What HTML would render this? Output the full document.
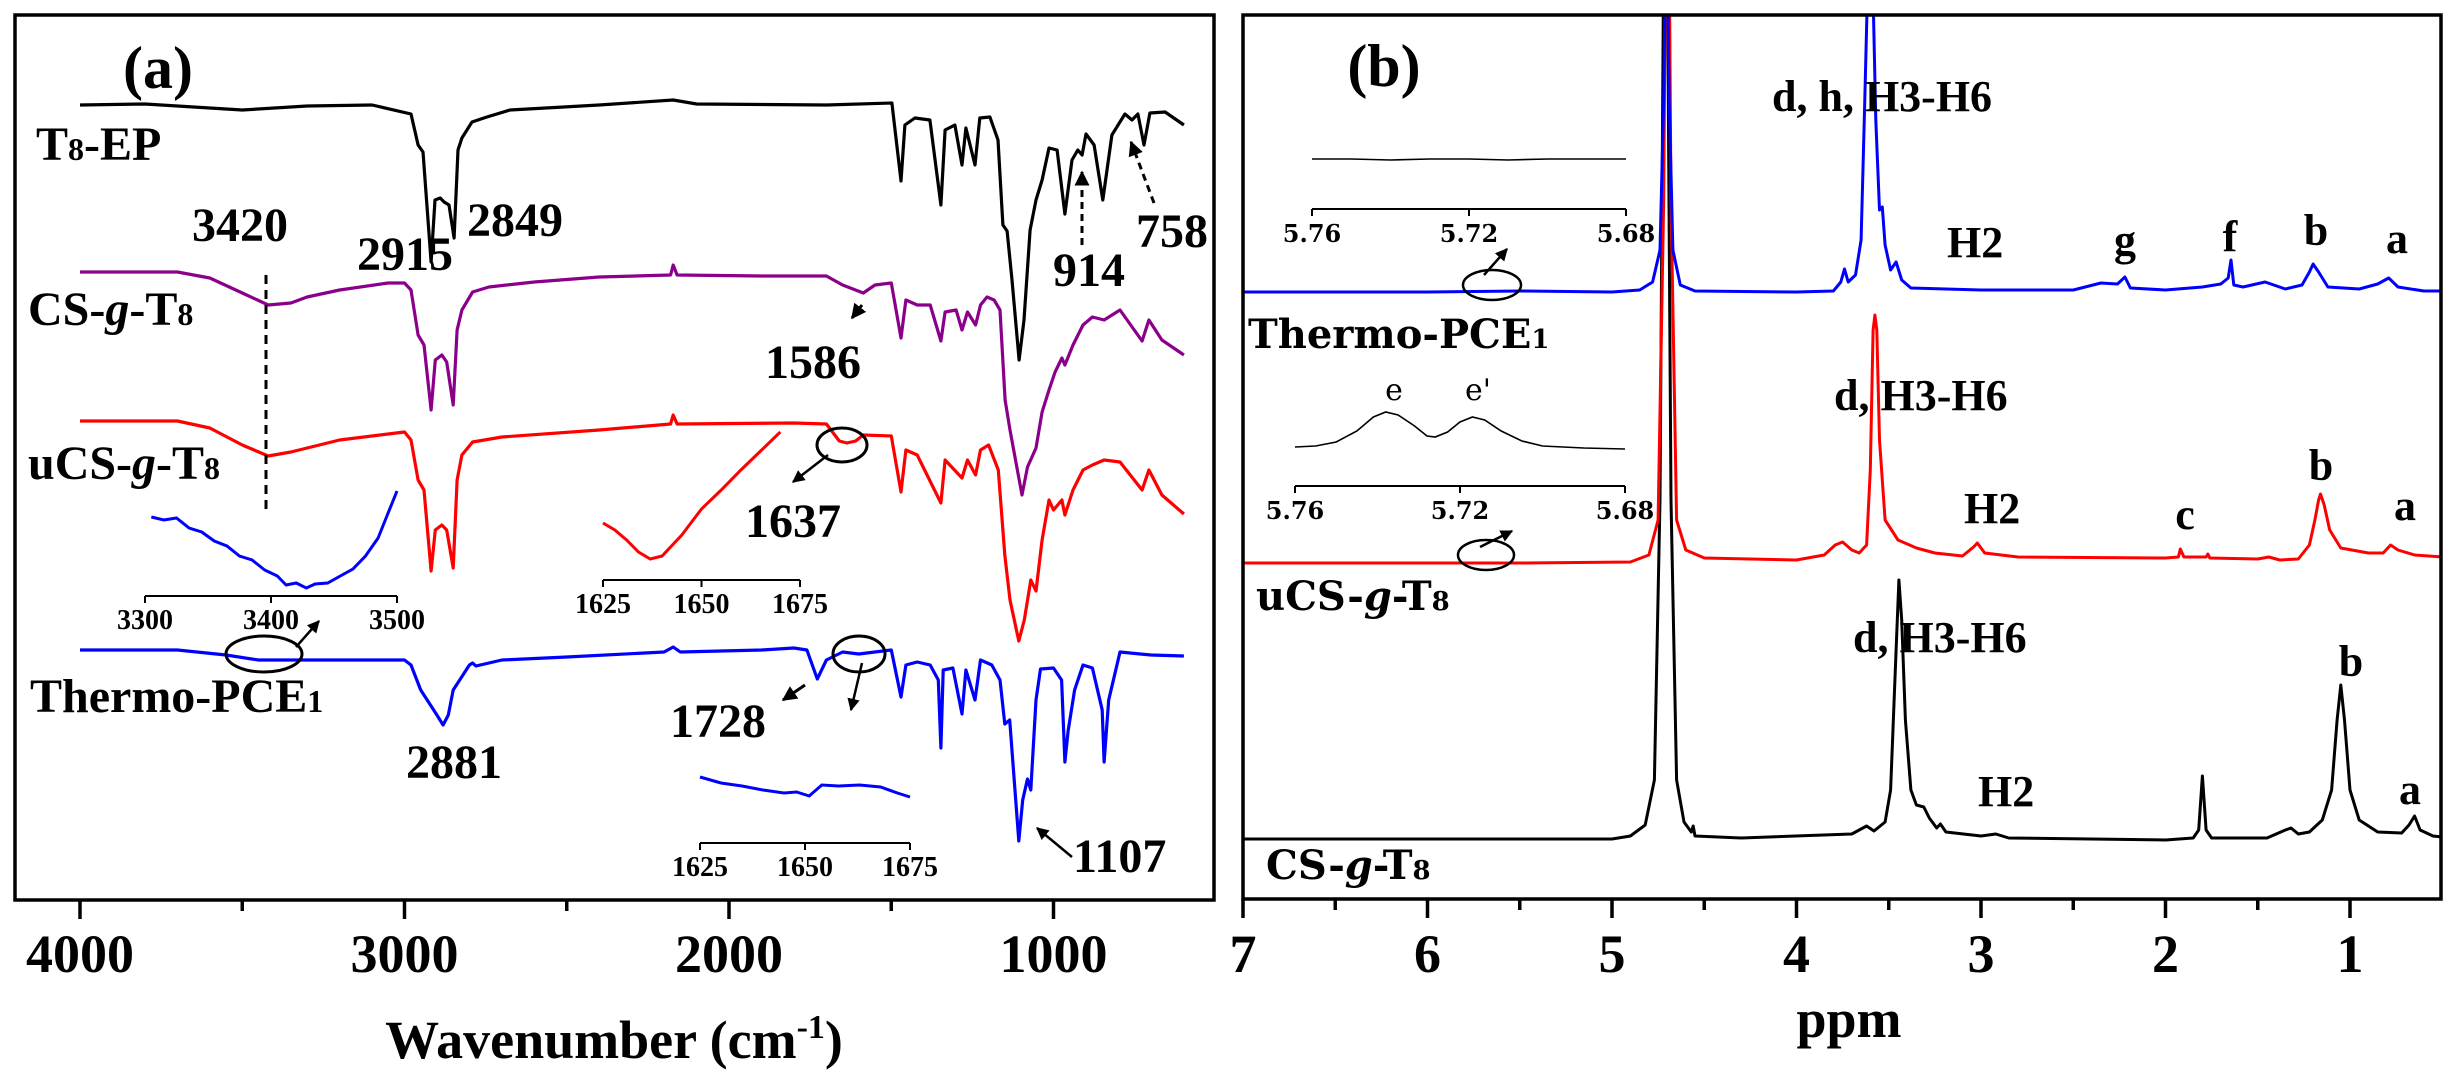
<!DOCTYPE html>
<html><head><meta charset="utf-8"><style>
html,body{margin:0;padding:0;background:#fff;}
svg{display:block;}
text{font-family:"Liberation Serif",serif;font-weight:bold;fill:#000;}
.w{font-family:"DejaVu Serif","Liberation Serif",serif;}
</style></head><body>
<svg id="fig" width="2458" height="1081" viewBox="0 0 2458 1081" xmlns="http://www.w3.org/2000/svg">
<defs>
<marker id="ah" viewBox="0 0 10 10" refX="9" refY="5" markerWidth="5" markerHeight="5" orient="auto"><path d="M0,0 L10,5 L0,10 z" fill="#000"/></marker>
<clipPath id="clipA"><rect x="15" y="15" width="1199" height="885"/></clipPath>
<clipPath id="clipB"><rect x="1243" y="15" width="1198" height="884"/></clipPath>
</defs>
<rect x="0" y="0" width="2458" height="1081" fill="#fff"/>
<g id="panelA"></g>
<g id="panelB"></g>

<!-- static annotation text panel a -->
<text x="158" y="88" font-size="60" text-anchor="middle">(a)</text>
<text x="36" y="160" font-size="48">T<tspan font-size="32">8</tspan>-EP</text>
<text x="28" y="325" font-size="48">CS-<tspan font-style="italic">g</tspan>-T<tspan font-size="32">8</tspan></text>
<text x="28" y="479" font-size="48">uCS-<tspan font-style="italic">g</tspan>-T<tspan font-size="32">8</tspan></text>
<text x="30" y="712" font-size="48">Thermo-PCE<tspan font-size="32">1</tspan></text>
<text x="240" y="241" font-size="48" text-anchor="middle">3420</text>
<text x="357" y="270" font-size="48">2915</text>
<text x="467" y="236" font-size="48">2849</text>
<text x="454" y="778" font-size="48" text-anchor="middle">2881</text>
<text x="765" y="378" font-size="48">1586</text>
<text x="745" y="537" font-size="48">1637</text>
<text x="670" y="737" font-size="48">1728</text>
<text x="1073" y="872" font-size="48">1107</text>
<text x="1089" y="286" font-size="48" text-anchor="middle">914</text>
<text x="1172" y="247" font-size="48" text-anchor="middle">758</text>
<text x="614" y="1058" font-size="54" text-anchor="middle">Wavenumber (cm<tspan font-size="34" dy="-20">-1</tspan><tspan dy="20">)</tspan></text>

<line x1="266" y1="275" x2="266" y2="510" stroke="#000" stroke-width="3" stroke-dasharray="9,6"/>
<line x1="1082" y1="245" x2="1082" y2="172" stroke="#000" stroke-width="3" stroke-dasharray="7,5" marker-end="url(#ah)"/>
<line x1="1154" y1="203" x2="1131" y2="142" stroke="#000" stroke-width="3" stroke-dasharray="7,5" marker-end="url(#ah)"/>
<line x1="862" y1="305" x2="852" y2="318" stroke="#000" stroke-width="3" marker-end="url(#ah)"/>
<ellipse cx="842" cy="445" rx="25" ry="17" fill="none" stroke="#000" stroke-width="3"/>
<line x1="828" y1="455" x2="793" y2="482" stroke="#000" stroke-width="2.5" marker-end="url(#ah)"/>
<ellipse cx="264" cy="654" rx="38" ry="18" fill="none" stroke="#000" stroke-width="3"/>
<line x1="296" y1="647" x2="319" y2="621" stroke="#000" stroke-width="2.5" marker-end="url(#ah)"/>
<line x1="805" y1="685" x2="783" y2="700" stroke="#000" stroke-width="3" marker-end="url(#ah)"/>
<ellipse cx="859" cy="654" rx="26" ry="18" fill="none" stroke="#000" stroke-width="3"/>
<line x1="862" y1="663" x2="851" y2="710" stroke="#000" stroke-width="2.5" marker-end="url(#ah)"/>
<line x1="1072" y1="857" x2="1037" y2="828" stroke="#000" stroke-width="2.5" marker-end="url(#ah)"/>

<!-- static annotation text panel b -->
<text x="1384" y="86" font-size="60" text-anchor="middle">(b)</text>
<text class="w" x="1248" y="348" font-size="40">Thermo-PCE<tspan font-size="26">1</tspan></text>
<text class="w" x="1256" y="610" font-size="40">uCS-<tspan font-style="italic">g</tspan>-T<tspan font-size="26">8</tspan></text>
<text class="w" x="1266" y="879" font-size="40">CS-<tspan font-style="italic">g</tspan>-T<tspan font-size="26">8</tspan></text>
<text x="1772" y="111" font-size="44">d, h, H3-H6</text>
<text x="1947" y="257" font-size="44">H2</text>
<text x="2125" y="255" font-size="44" text-anchor="middle">g</text>
<text x="2230" y="251" font-size="44" text-anchor="middle">f</text>
<text x="2316" y="245" font-size="44" text-anchor="middle">b</text>
<text x="2397" y="253" font-size="44" text-anchor="middle">a</text>
<text x="1834" y="410" font-size="44">d, H3-H6</text>
<text x="1964" y="523" font-size="44">H2</text>
<text x="2185" y="529" font-size="44" text-anchor="middle">c</text>
<text x="2321" y="480" font-size="44" text-anchor="middle">b</text>
<text x="2405" y="520" font-size="44" text-anchor="middle">a</text>
<text x="1853" y="652" font-size="44">d, H3-H6</text>
<text x="2351" y="676" font-size="44" text-anchor="middle">b</text>
<text x="1978" y="806" font-size="44">H2</text>
<text x="2410" y="804" font-size="44" text-anchor="middle">a</text>
<text class="w" x="1394" y="400" font-size="30" font-weight="normal" style="font-weight:normal" text-anchor="middle">e</text>
<text class="w" x="1478" y="400" font-size="30" style="font-weight:normal" text-anchor="middle">e'</text>
<text x="1849" y="1037" font-size="54" text-anchor="middle">ppm</text>
<ellipse cx="1492" cy="285" rx="29" ry="15" fill="none" stroke="#000" stroke-width="2.5"/>
<line x1="1484" y1="275" x2="1507" y2="249" stroke="#000" stroke-width="2.5" marker-end="url(#ah)"/>
<ellipse cx="1486" cy="555" rx="28" ry="15" fill="none" stroke="#000" stroke-width="2.5"/>
<line x1="1480" y1="547" x2="1512" y2="531" stroke="#000" stroke-width="2.5" marker-end="url(#ah)"/>
</svg>
<script>
// ---------- IR data (wavenumber, relative transmittance a.u.) ----------
const irT8Wn = [4000,3800,3500,3300,3100,2980,2958,2943,2918,2906,2890,2878,2863,2847,2835,2823,2792,2746,2675,2400,2172,2100,1700,1498,1470,1458,1427,1381,1347,1334,1304,1282,1270,1242,1227,1196,1171,1156,1143,1128,1106,1091,1072,1054,1035,1014,989,965,943,925,912,900,875,848,820,780,758,740,721,703,656,598];
const irT8Val = [0,1,-5,-1,0,-9,-40,-47,-157,-95,-93,-97,-100,-133,-45,-33,-17,-12,-5,0,5,1,0,2,-76,-20,-13,-15,-100,-25,-20,-60,-23,-60,-13,-12,-35,-120,-126,-175,-255,-215,-125,-95,-75,-43,-45,-109,-55,-45,-50,-29,-40,-95,-30,-9,-15,-9,-40,-8,-7,-20];
const irCSWn = [4000,3700,3600,3500,3420,3350,3300,3200,3050,3000,2980,2958,2940,2918,2905,2885,2870,2850,2838,2823,2790,2740,2600,2400,2180,2172,2160,1900,1700,1650,1586,1550,1500,1470,1455,1420,1380,1347,1334,1300,1282,1265,1240,1225,1205,1183,1165,1149,1134,1097,1080,1054,1035,1014,995,974,965,940,909,880,844,795,727,706,666,598];
const irCSVal = [0,0,-6,-21,-33,-31,-25,-18,-11,-11,-18,-63,-73,-138,-88,-83,-90,-133,-58,-38,-20,-15,-10,-5,-3,7,-3,-4,-4,-13,-21,-13,-11,-66,-28,-33,-33,-69,-40,-38,-58,-40,-53,-33,-25,-28,-38,-128,-158,-223,-195,-176,-140,-118,-100,-86,-93,-73,-53,-45,-48,-38,-69,-48,-68,-83];
const irUCSWn = [4000,3700,3600,3500,3420,3350,3200,3000,2980,2958,2940,2918,2905,2885,2870,2850,2838,2823,2790,2700,2400,2180,2172,2160,1800,1700,1660,1637,1610,1586,1500,1470,1455,1420,1347,1334,1282,1265,1240,1225,1200,1170,1150,1134,1107,1090,1070,1054,1035,1014,1000,974,965,940,909,880,844,795,727,706,666,598];
const irUCSVal = [0,0,-7,-24,-35,-31,-19,-11,-19,-59,-69,-150,-109,-104,-109,-147,-59,-34,-21,-16,-9,-3,6,-3,-2,-3,-20,-22,-20,-14,-15,-71,-29,-34,-82,-39,-57,-39,-54,-29,-24,-49,-134,-179,-220,-199,-159,-170,-119,-79,-89,-79,-94,-69,-49,-44,-39,-41,-69,-49,-74,-93];
const irPCEWn = [4000,3700,3550,3450,3300,3000,2980,2950,2930,2900,2881,2865,2850,2830,2800,2790,2780,2700,2500,2200,2172,2150,1900,1800,1760,1728,1700,1650,1600,1500,1470,1455,1420,1380,1355,1347,1340,1310,1282,1270,1242,1225,1190,1165,1150,1135,1107,1095,1080,1070,1054,1040,1000,975,965,955,935,909,880,850,844,830,795,700,598];
const irPCEVal = [0,0,-5,-10,-10,-10,-15,-40,-50,-65,-75,-65,-40,-30,-15,-13,-16,-10,-7,-2,3,-2,0,2,0,-29,-10,-2,-4,0,-47,-15,-12,-15,-30,-98,-20,-18,-64,-20,-50,-10,-15,-30,-74,-70,-191,-150,-129,-140,-50,-19,-18,-30,-112,-81,-40,-15,-18,-60,-112,-50,-2,-5,-6];
const irOffsets = [795,628,479,250];
const irColors = ['#000000','#8b008b','#ff0000','#0000ff'];
const irXTicks = [4000,3000,2000,1000];
const irXTickLabels = ['4000','3000','2000','1000'];
const irXMinor = [3500,2500,1500];
// IR insets
const inset1Wn = [3305,3315,3325,3335,3345,3355,3365,3375,3385,3395,3405,3412,3420,3428,3435,3445,3455,3465,3475,3485,3492,3500];
const inset1Val = [79,76,78,68,64,55,50,40,36,26,20,11,13,8,12,13,20,27,40,58,80,105];
const inset1Ticks = [3300,3400,3500];
const inset2Wn = [1625,1628,1631,1634,1637,1640,1645,1650,1655,1660,1665,1670];
const inset2Val = [57,50,40,28,21,24,45,71,90,110,129,148];
const inset3Wn = [1625,1630,1635,1640,1645,1648,1651,1654,1658,1663,1668,1672,1675];
const inset3Val = [66,60,57,53,50,51,47,58,57,58,56,50,46];
const insetLoTicks = [1625,1650,1675];
// ---------- NMR data (ppm, intensity a.u.) ----------
const nmrBluePpm = [7.0,6.0,5.5,5.0,4.85,4.78,4.74,4.72,4.71,4.70,4.69,4.67,4.63,4.55,4.0,3.8,3.76,3.74,3.72,3.68,3.65,3.63,3.61,3.59,3.57,3.55,3.535,3.52,3.49,3.46,3.43,3.38,3.0,2.5,2.35,2.26,2.22,2.19,2.0,1.8,1.70,1.66,1.645,1.63,1.58,1.46,1.35,1.26,1.22,1.2,1.17,1.12,0.95,0.85,0.79,0.74,0.6,0.5];
const nmrBlueVal = [0,0,1,0,2,10,42,192,342,342,192,42,7,1,0,1,10,23,10,17,52,192,342,342,172,82,85,47,22,30,12,4,2,2,9,8,15,4,2,5,8,14,32,7,5,10,3,7,20,28,20,5,3,8,14,5,1,1];
const nmrRedPpm = [7.0,5.5,4.9,4.80,4.75,4.72,4.71,4.69,4.68,4.65,4.6,4.5,4.0,3.85,3.79,3.75,3.7,3.66,3.62,3.6,3.585,3.575,3.565,3.55,3.52,3.45,3.35,3.25,3.1,3.04,3.02,2.98,2.8,2.0,1.93,1.92,1.9,1.78,1.77,1.76,1.5,1.44,1.38,1.28,1.22,1.19,1.17,1.16,1.14,1.11,1.05,0.9,0.82,0.78,0.74,0.65,0.5];
const nmrRedVal = [0,0,1,8,43,363,613,613,363,43,13,5,3,8,18,21,13,10,18,93,233,248,233,123,43,23,15,10,7,16,20,10,6,5,6,14,6,6,9,5,4,6,3,4,18,43,63,69,58,33,15,10,10,18,13,8,6];
const nmrBlackPpm = [7.0,5.0,4.9,4.82,4.77,4.74,4.72,4.70,4.68,4.65,4.61,4.57,4.56,4.55,4.3,3.7,3.64,3.62,3.58,3.52,3.49,3.46,3.445,3.43,3.41,3.38,3.35,3.31,3.28,3.24,3.22,3.19,3.0,2.92,2.85,2.0,1.85,1.82,1.80,1.78,1.75,1.45,1.35,1.32,1.28,1.22,1.15,1.10,1.07,1.05,1.03,1.0,0.95,0.85,0.72,0.68,0.65,0.62,0.55,0.5];
const nmrBlackVal = [0,0,3,14,59,339,889,889,339,59,17,7,13,3,1,5,11,13,8,17,49,189,259,219,119,49,34,32,21,11,15,7,3,5,1,-1,1,9,63,9,1,1,9,11,5,7,19,49,119,154,119,49,19,7,6,14,23,9,3,2];
const nmrOffsets = [608,337,61];
const nmrColors = ['#0000ff','#ff0000','#000000'];
const nmrXTicks = [7,6,5,4,3,2,1];
const nmrXTickLabels = ['7','6','5','4','3','2','1'];
const nmrXMinor = [6.5,5.5,4.5,3.5,2.5,1.5];
// NMR insets
const nmrInsetAPpm = [5.76,5.75,5.74,5.73,5.72,5.71,5.70,5.69,5.68];
const nmrInsetAVal = [50,50,49,50,50,49,50,50,50];
const nmrInsetBPpm = [5.760,5.755,5.750,5.745,5.741,5.738,5.735,5.731,5.728,5.726,5.723,5.720,5.717,5.714,5.710,5.705,5.700,5.690,5.680];
const nmrInsetBVal = [39,40,44,55,69,74,71,60,50,49,54,64,69,66,55,45,40,38,37];
const nmrInsetTicks = [5.76,5.72,5.68];
const nmrInsetTickLabels = ['5.76','5.72','5.68'];

const NS = 'http://www.w3.org/2000/svg';
const svg = document.getElementById('fig');
const gA = document.getElementById('panelA');
const gB = document.getElementById('panelB');
function mk(tag, parent){ const e = document.createElementNS(NS, tag); parent.appendChild(e); return e; }
// scales
const irX = wn => 80 + (4000 - wn) * 0.3245;
const yS = v => 900 - v;
const nmrX = p => 1243 + (7 - p) * 184.5;
function pts(xs, vs, fx, fy){ return xs.map((x,i)=> fx(x).toFixed(1)+','+fy(vs[i]).toFixed(1)).join(' '); }

// IR spectra
const irSeries = [[irT8Wn,irT8Val,'ir-t8-ep'],[irCSWn,irCSVal,'ir-cs-g-t8'],[irUCSWn,irUCSVal,'ir-ucs-g-t8'],[irPCEWn,irPCEVal,'ir-thermo-pce1']];
const clA = mk('g', gA); clA.setAttribute('clip-path','url(#clipA)');
irSeries.forEach((s,k)=>{
  const p = mk('polyline', clA);
  
  
  p.setAttribute('points', pts(s[0], s[1], irX, v=>yS(irOffsets[k]+v)));
  p.setAttribute('fill','none'); p.setAttribute('stroke', irColors[k]); p.setAttribute('stroke-width','3.2'); p.setAttribute('stroke-linejoin','round');
});
// IR insets
function insetAxis(parent, x0, x1, y, ticks, labels, fx, name, fs, cls){
  const l = mk('line', parent);
  
  
  l.setAttribute('x1',x0); l.setAttribute('x2',x1); l.setAttribute('y1',y); l.setAttribute('y2',y);
  l.setAttribute('stroke','#000'); l.setAttribute('stroke-width','2');
  ticks.forEach((t,i)=>{
    const tk = mk('line', parent);
    
    
    tk.setAttribute('x1',fx(t)); tk.setAttribute('x2',fx(t)); tk.setAttribute('y1',y); tk.setAttribute('y2',y+7);
    tk.setAttribute('stroke','#000'); tk.setAttribute('stroke-width','2');
    const tx = mk('text', parent);
    
    
    tx.setAttribute('x',fx(t)); tx.setAttribute('y',y+33); tx.setAttribute('font-size',fs); tx.setAttribute('text-anchor','middle');
    if(cls) tx.setAttribute('class',cls);
    tx.textContent = labels[i];
  });
}
const in1X = wn => 145 + (wn-3300)*1.26;
insetAxis(gA, 145, 397, 596, inset1Ticks, inset1Ticks.map(String), in1X, 'inset-3300', 28);
const p1 = mk('polyline', gA);


p1.setAttribute('points', pts(inset1Wn, inset1Val, in1X, v=>596-v));
p1.setAttribute('fill','none'); p1.setAttribute('stroke','#0000ff'); p1.setAttribute('stroke-width','3');
const in2X = wn => 603 + (wn-1625)*3.94;
insetAxis(gA, 603, 800, 580, insetLoTicks, insetLoTicks.map(String), in2X, 'inset-1625-red', 28);
const p2 = mk('polyline', gA);


p2.setAttribute('points', pts(inset2Wn, inset2Val, in2X, v=>580-v));
p2.setAttribute('fill','none'); p2.setAttribute('stroke','#ff0000'); p2.setAttribute('stroke-width','3');
const in3X = wn => 700 + (wn-1625)*4.2;
insetAxis(gA, 700, 910, 843, insetLoTicks, insetLoTicks.map(String), in3X, 'inset-1625-blue', 28);
const p3 = mk('polyline', gA);


p3.setAttribute('points', pts(inset3Wn, inset3Val, in3X, v=>843-v));
p3.setAttribute('fill','none'); p3.setAttribute('stroke','#0000ff'); p3.setAttribute('stroke-width','3');

// NMR spectra
const nmrSeries = [[nmrBlackPpm,nmrBlackVal,2,'nmr-cs-g-t8'],[nmrRedPpm,nmrRedVal,1,'nmr-ucs-g-t8'],[nmrBluePpm,nmrBlueVal,0,'nmr-thermo-pce1']];
const clB = mk('g', gB); clB.setAttribute('clip-path','url(#clipB)');
nmrSeries.forEach(s=>{
  const k = s[2];
  const p = mk('polyline', clB);
  
  
  p.setAttribute('points', pts(s[0], s[1], nmrX, v=>yS(nmrOffsets[k]+v)));
  p.setAttribute('fill','none'); p.setAttribute('stroke', nmrColors[k]); p.setAttribute('stroke-width','3'); p.setAttribute('stroke-linejoin','round');
});
// NMR insets
const niAX = p => 1312 + (5.76-p)*3925;
insetAxis(gB, 1312, 1626, 209, nmrInsetTicks, nmrInsetTickLabels, niAX, 'nmr-inset-top', 24, 'w');
const q1 = mk('polyline', gB);


q1.setAttribute('points', pts(nmrInsetAPpm, nmrInsetAVal, niAX, v=>209-v));
q1.setAttribute('fill','none'); q1.setAttribute('stroke','#000'); q1.setAttribute('stroke-width','1.6');
const niBX = p => 1295 + (5.76-p)*4125;
insetAxis(gB, 1295, 1625, 486, nmrInsetTicks, nmrInsetTickLabels, niBX, 'nmr-inset-mid', 24, 'w');
const q2 = mk('polyline', gB);


q2.setAttribute('points', pts(nmrInsetBPpm, nmrInsetBVal, niBX, v=>486-v));
q2.setAttribute('fill','none'); q2.setAttribute('stroke','#000'); q2.setAttribute('stroke-width','1.6');

// frames & axes
function frame(parent, x, y, w, h, name){
  const r = mk('rect', parent);
  
  
  r.setAttribute('x',x); r.setAttribute('y',y); r.setAttribute('width',w); r.setAttribute('height',h);
  r.setAttribute('fill','none'); r.setAttribute('stroke','#000'); r.setAttribute('stroke-width','3.5');
}
frame(gA, 15, 15, 1199, 885, 'ir-plot-frame');
frame(gB, 1243, 15, 1198, 884, 'nmr-plot-frame');
function xAxis(parent, ticks, labels, minor, fx, y, name){
  ticks.forEach((t,i)=>{
    const tk = mk('line', parent);
    
    
    tk.setAttribute('x1',fx(t)); tk.setAttribute('x2',fx(t)); tk.setAttribute('y1',y); tk.setAttribute('y2',y+19);
    tk.setAttribute('stroke','#000'); tk.setAttribute('stroke-width','3.5');
    const tx = mk('text', parent);
    
    
    tx.setAttribute('x',fx(t)); tx.setAttribute('y',972); tx.setAttribute('font-size','54'); tx.setAttribute('text-anchor','middle');
    tx.textContent = labels[i];
  });
  minor.forEach(t=>{
    const tk = mk('line', parent);
    
    
    tk.setAttribute('x1',fx(t)); tk.setAttribute('x2',fx(t)); tk.setAttribute('y1',y); tk.setAttribute('y2',y+11);
    tk.setAttribute('stroke','#000'); tk.setAttribute('stroke-width','3.5');
  });
}
xAxis(gA, irXTicks, irXTickLabels, irXMinor, irX, 900, 'ir-x-axis');
xAxis(gB, nmrXTicks, nmrXTickLabels, nmrXMinor, nmrX, 899, 'nmr-x-axis');
</script>
</body></html>
